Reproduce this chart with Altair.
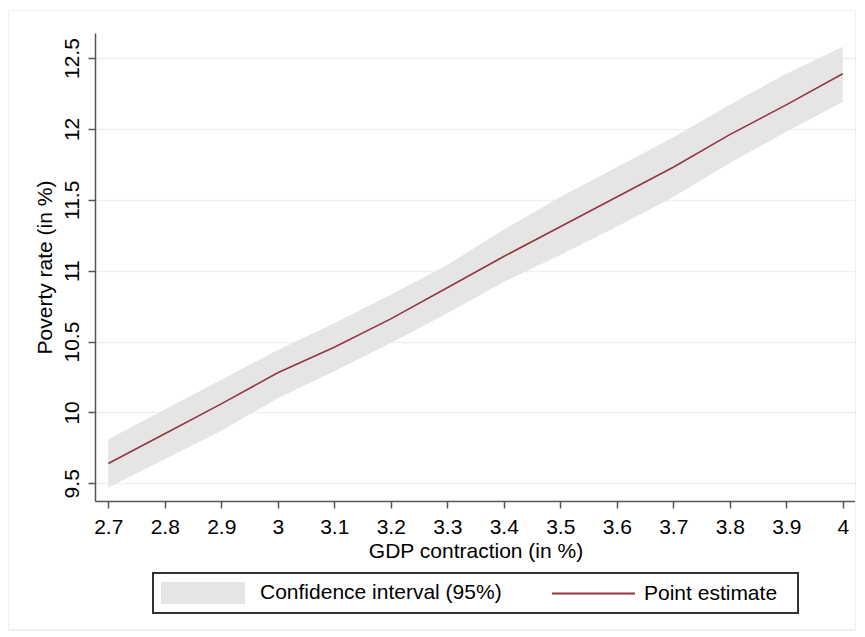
import altair as alt
import pandas as pd

# Data
gdp_contraction = [2.7, 2.8, 2.9, 3.0, 3.1, 3.2, 3.3, 3.4, 3.5, 3.6, 3.7, 3.8, 3.9, 4.0]
point_estimate = [9.64, 9.85, 10.06, 10.28, 10.46, 10.66, 10.88, 11.10, 11.31, 11.52, 11.73, 11.96, 12.17, 12.39]
ci_upper = [9.81, 10.02, 10.23, 10.44, 10.63, 10.83, 11.04, 11.29, 11.52, 11.73, 11.94, 12.17, 12.39, 12.58]
ci_lower = [9.47, 9.67, 9.87, 10.10, 10.29, 10.49, 10.70, 10.92, 11.11, 11.31, 11.52, 11.76, 11.98, 12.19]

x_ticks = [2.7, 2.8, 2.9, 3.0, 3.1, 3.2, 3.3, 3.4, 3.5, 3.6, 3.7, 3.8, 3.9, 4.0]
y_ticks = [9.5, 10.0, 10.5, 11.0, 11.5, 12.0, 12.5]

ci_label = "Confidence interval (95%)"
line_label = "Point estimate"

df = pd.DataFrame({
    "x": gdp_contraction,
    "est": point_estimate,
    "lo": ci_lower,
    "hi": ci_upper,
    "ci": [ci_label] * len(gdp_contraction),
    "pe": [line_label] * len(gdp_contraction),
})

FONT = "Liberation Sans"
W, H = 761, 468

x_enc = alt.X(
    "x:Q",
    scale=alt.Scale(domain=[2.6765, 4.0235], nice=False, zero=False),
    axis=alt.Axis(
        values=x_ticks, format=".1~f", title="GDP contraction (in %)",
        grid=False, tickSize=7, labelPadding=8, titlePadding=3,
    ),
)
y_scale = alt.Scale(domain=[9.375, 12.677], nice=False, zero=False)

band = alt.Chart(df).mark_area(opacity=1).encode(
    x=x_enc,
    y=alt.Y(
        "lo:Q", scale=y_scale,
        axis=alt.Axis(
            values=y_ticks, format=".1~f", title="Poverty rate (in %)",
            grid=True, tickSize=7, labelAngle=-90, labelAlign="center",
            labelBaseline="bottom", labelPadding=6, titlePadding=6,
        ),
    ),
    y2="hi:Q",
    fill=alt.Fill(
        "ci:N",
        scale=alt.Scale(domain=[ci_label], range=["#e5e5e5"]),
        legend=alt.Legend(
            title=None, orient="none", legendX=66, legendY=518,
            symbolType="M-1,-0.26L1,-0.26L1,0.26L-1,0.26Z",
            symbolSize=7056, symbolStrokeWidth=0, symbolOpacity=1,
            labelOffset=15,
        ),
    ),
)

line = alt.Chart(df).mark_line(strokeWidth=1.6).encode(
    x="x:Q",
    y=alt.Y("est:Q", scale=y_scale),
    stroke=alt.Stroke(
        "pe:N",
        scale=alt.Scale(domain=[line_label], range=["#953540"]),
        legend=alt.Legend(
            title=None, orient="none", legendX=456, legendY=518,
            symbolType="stroke", symbolSize=6889, symbolStrokeWidth=2,
            labelOffset=8,
        ),
    ),
)

legend_box = alt.Chart(df).mark_rect(
    fill="transparent", stroke="#333333", strokeWidth=1.2
).encode(
    x=alt.value(58), x2=alt.value(703), y=alt.value(540), y2=alt.value(580)
)

outer_box = alt.Chart(df).mark_rect(
    fill="transparent", stroke="#eef1f3", strokeWidth=1
).encode(
    x=alt.value(-86.5), x2=alt.value(760.5), y=alt.value(-22.5), y2=alt.value(597)
)

chart = alt.layer(outer_box, band, line, legend_box).properties(
    width=W, height=H,
    autosize=alt.AutoSizeParams(type="none"),
    padding={"left": 87, "top": 25, "right": 0, "bottom": 132},
    background="white",
).configure_view(
    stroke=None
).configure_axis(
    labelFont=FONT, titleFont=FONT, labelFontSize=21, titleFontSize=21,
    labelColor="#000000", titleColor="#000000", titleFontWeight="normal",
    domainColor="#555555", domainWidth=1.5, tickColor="#555555", tickWidth=1.5,
    gridColor="#eaf2f3", gridWidth=1.5,
).configure_legend(
    labelFont=FONT, labelFontSize=21, labelColor="#000000", labelLimit=400,
)

chart.save("out.html", embed_options={"renderer": "svg", "actions": False})
